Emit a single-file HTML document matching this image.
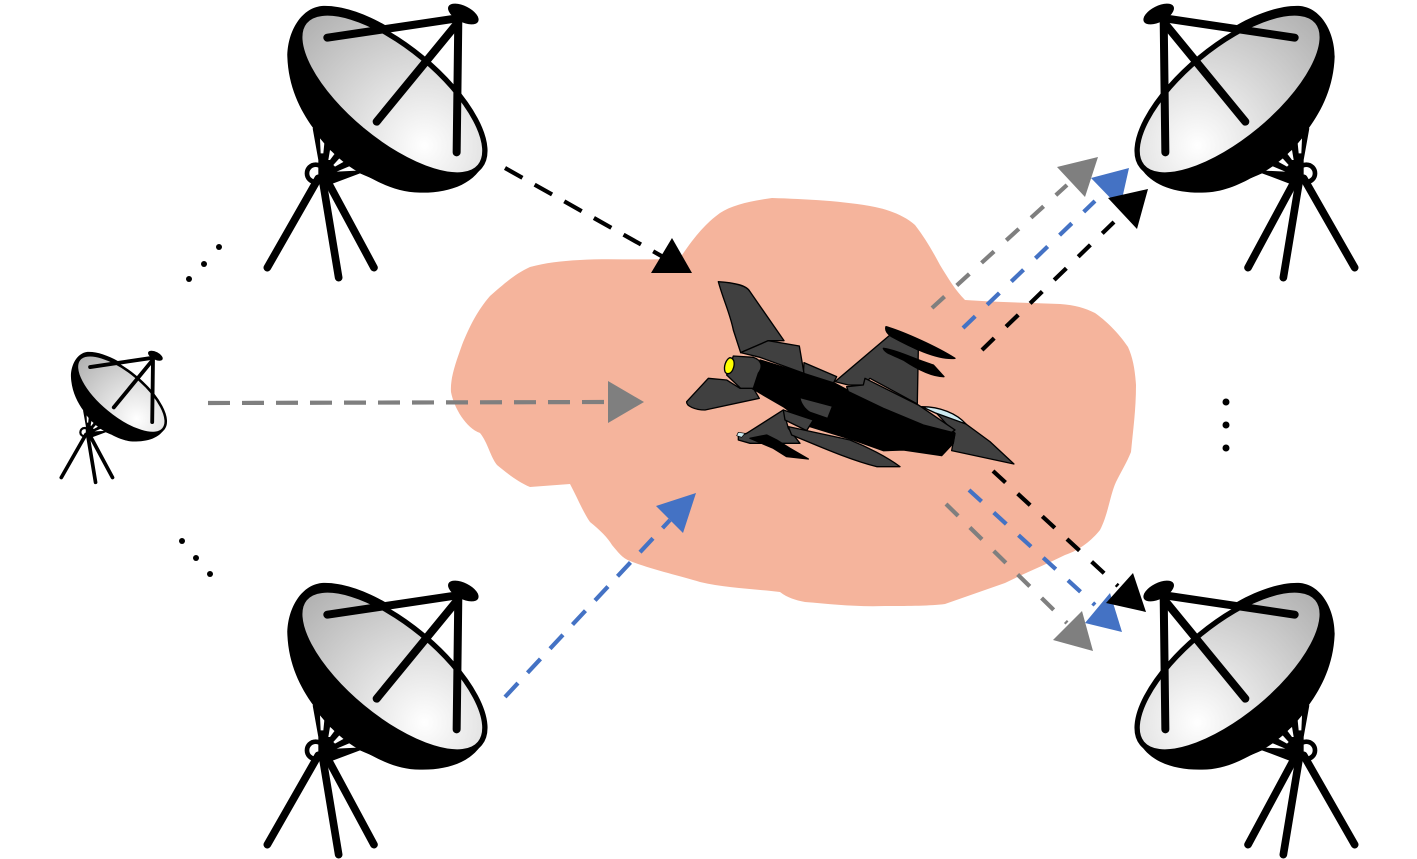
<!DOCTYPE html>
<html>
<head>
<meta charset="utf-8">
<style>
html,body{margin:0;padding:0;background:#fff;width:1417px;height:859px;overflow:hidden}
svg{display:block}
</style>
</head>
<body>
<svg width="1417" height="859" viewBox="0 0 1417 859" xmlns="http://www.w3.org/2000/svg">
<defs>
<radialGradient id="g" gradientUnits="userSpaceOnUse" cx="600" cy="340" r="520">
<stop offset="0" stop-color="#ffffff"/>
<stop offset="1" stop-color="#b0b0b0"/>
</radialGradient>
<g id="ant">
<!-- legs -->
<g fill="none" stroke="#000" stroke-linecap="round" stroke-width="23">
<path d="M205,535 L52,803"/>
<path d="M216,530 L266,833"/>
<path d="M225,530 L372,803"/>
</g>
<circle cx="197" cy="520" r="26" fill="none" stroke="#000" stroke-width="14"/>
<!-- mount block with white slivers -->
<polygon points="188,385 205,480 205,550 250,550 330,520 365,535 210,370" fill="#000"/>
<g fill="#fff">
<polygon points="210,415 223,430 220,460 212,460"/>
<polygon points="240,450 255,460 240,480 235,480"/>
<polygon points="268,475 282,485 255,500 250,495"/>
<polygon points="300,498 322,512 260,515"/>
</g>
<!-- dish back -->
<path d="M405,75 C340,38 270,15 215,18 C150,25 112,100 112,170 C115,260 150,330 190,385 C230,450 300,510 355,530 C400,555 450,578 510,578 C600,580 680,550 705,480 L400,200 Z" fill="#000"/>
<!-- dish face -->
<ellipse cx="427" cy="282" rx="341" ry="141" transform="rotate(39.6 427 282)" fill="url(#g)" stroke="#000" stroke-width="16"/>
<!-- feed struts -->
<g fill="none" stroke="#000" stroke-linecap="round" stroke-width="24">
<path d="M232,113 L622,55"/>
<path d="M380,365 L622,70"/>
<path d="M620,457 L625,60"/>
</g>
<ellipse cx="640" cy="42" rx="50" ry="24" transform="rotate(27 640 42)" fill="#000"/>
</g>
</defs>

<!-- cloud -->
<path d="M772,198 C750,201 732,205 720,213 C705,224 695,236 680,258 C650,261 610,258 580,260 C560,261 545,263 530,267 C515,274 505,283 490,296 C478,310 470,325 462,345 C456,362 450,378 451,392 C454,408 466,428 480,433 C488,443 490,456 497,465 C508,474 518,482 530,487 L570,484 C577,497 583,512 590,522 C600,530 608,538 612,545 C618,552 622,558 630,561 C650,569 680,576 700,582 C725,588 755,589 780,592 C788,598 795,600 805,602 C830,604 855,607 885,606 C905,606 930,606 945,604 C965,597 985,590 1005,583 C1025,573 1045,565 1065,555 C1080,550 1092,540 1100,530 C1108,515 1110,495 1116,482 C1122,470 1127,462 1131,452 C1133,430 1136,410 1136,385 C1135,370 1133,358 1128,347 C1118,332 1105,320 1095,313 C1085,308 1075,305 1060,304 C1030,303 995,302 965,300 C955,290 948,278 940,265 C932,250 925,238 915,225 C905,216 890,210 875,207 C845,201 805,199 772,198 Z" fill="#f5b49c"/>

<!-- antennas -->
<use href="#ant" transform="translate(250,0) scale(.3333)"/>
<use href="#ant" transform="translate(250,577) scale(.3333)"/>
<use href="#ant" transform="translate(1372,0) scale(-.3333,.3333)"/>
<use href="#ant" transform="translate(1372,577) scale(-.3333,.3333)"/>
<use href="#ant" transform="translate(53,349) scale(.16)"/>

<!-- aircraft -->
<g transform="translate(670,270) scale(.3333)" stroke="#000" stroke-width="4" stroke-linejoin="round" fill="#404040">
<path d="M145,35 C190,38 230,45 240,65 L342,212 L295,212 L212,248 L190,180 C180,130 160,90 145,35 Z"/>
<path d="M402,278 L500,320 L490,340 L400,312 Z"/>
<path d="M212,248 L295,212 L388,228 L402,310 L270,262 Z"/>
<path d="M115,325 L170,330 L210,355 L250,355 L268,385 L105,420 C75,420 48,408 50,395 Z"/>
<path d="M495,335 L660,195 L745,240 L742,402 L600,325 L580,345 L535,345 Z"/>
<path d="M648,170 C700,185 800,230 855,265 C800,270 720,230 665,200 C650,190 645,180 648,170 Z" fill="#000"/>
<path d="M640,235 C680,240 740,270 790,285 L822,320 C780,320 730,290 700,270 C670,255 645,250 640,235 Z" fill="#000"/>
<path d="M340,420 L230,490 L205,498 L205,510 L240,520 L390,520 L355,475 Z"/>
<path d="M225,490 L205,487 L200,497 L215,502 Z" fill="#cdeaf0" stroke-width="2"/>
<path d="M240,505 L290,495 L320,510 L360,535 L415,567 L350,560 L310,535 Z" fill="#000"/>
<path d="M755,410 C810,410 860,430 888,462 L820,440 Z" fill="#cdeaf0"/>
<path d="M800,430 L888,462 L960,515 L1032,582 L845,542 L855,490 Z"/>
<path d="M270,270 L400,310 L495,340 L560,375 L740,430 L855,490 L850,520 L815,557 L700,540 L640,542 L550,510 L420,470 L340,410 L245,355 L265,310 Z" fill="#000"/>
<path d="M190,258 L250,262 C275,270 280,290 265,310 L250,355 L212,355 L170,315 Z"/>
<path d="M180,263 C195,265 195,285 188,300 C182,312 170,315 165,305 C160,290 168,268 180,263 Z" fill="#ff0"/>
<path d="M530,350 L580,345 L585,325 L745,405 L855,480 L845,487 L760,465 L640,415 L535,365 Z"/>
<path d="M392,385 L485,410 L472,443 L420,425 C405,415 395,400 392,385 Z" stroke="none"/>
<path d="M340,420 L345,450 L410,482 L430,450 Z"/>
<path d="M355,470 L540,510 C590,530 650,560 690,590 L620,590 C540,570 450,530 365,495 Z"/>
</g>

<!-- connectors -->
<g fill="none" stroke-width="4.2" stroke-dasharray="17 16.5">
<path d="M505,168 L665,258" stroke="#000" stroke-dasharray="20 14"/>
<path d="M208,403 L610,402" stroke="#7f7f7f" stroke-dasharray="22 12"/>
<path d="M505,697 L670,520" stroke="#4472c4" stroke-dasharray="19 14"/>
<path d="M932,308 L1067,185" stroke="#7f7f7f"/>
<path d="M963,328 L1095,201" stroke="#4472c4"/>
<path d="M982,350 L1114,222" stroke="#000"/>
<path d="M993,471 L1118,586" stroke="#000"/>
<path d="M969,490 L1095,605" stroke="#4472c4"/>
<path d="M946,504 L1067,623" stroke="#7f7f7f"/>
</g>

<!-- arrowheads -->
<polygon points="672,238 692,273 651,273" fill="#000"/>
<polygon points="608,381 644,402 608,423" fill="#7f7f7f"/>
<polygon points="696,493 683,533 656,506" fill="#4472c4"/>
<polygon points="1129,168 1091,178 1120,208" fill="#4472c4"/>
<polygon points="1098,157 1057,167 1085,197" fill="#7f7f7f"/>
<polygon points="1148,189 1108,198 1137,229" fill="#000"/>
<polygon points="1110,593 1085,623 1122,632" fill="#4472c4"/>
<polygon points="1133,573 1106,603 1146,612" fill="#000"/>
<polygon points="1082,611 1053,640 1093,651" fill="#7f7f7f"/>

<!-- ellipsis dots -->
<g fill="#000">
<circle cx="189" cy="279" r="3"/><circle cx="204" cy="264" r="3"/><circle cx="219" cy="247" r="3"/>
<circle cx="182" cy="541" r="3"/><circle cx="196" cy="558" r="3"/><circle cx="210" cy="574" r="3"/>
<circle cx="1226" cy="402" r="3.5"/><circle cx="1226" cy="425" r="3.5"/><circle cx="1226" cy="448" r="3.5"/>
</g>
</svg>
</body>
</html>
